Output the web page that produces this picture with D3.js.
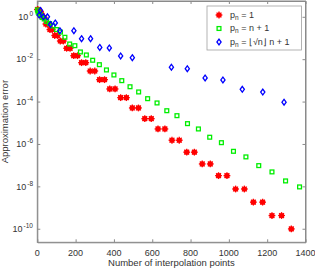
<!DOCTYPE html>
<html><head><meta charset="utf-8">
<script src="https://cdn.jsdelivr.net/npm/d3@7"></script>
<style>
html,body{margin:0;padding:0;background:#fff;}
text{font-family:"Liberation Sans",Arial,Helvetica,sans-serif;}
</style></head>
<body><svg id="c" width="315" height="270"></svg>
<script>
// ---- data ----
const xTicks = [0,200,400,600,800,1000,1200,1400];
const yTickExps = [0,-2,-4,-6,-8,-10];

// p_n = 1
const redX = [1,3,6,10,15,21,28,36,45,55,66,78,91,105,120,136,153,171,190,210,231,253,276,300,325,351,378,406,435,465,496,528,561,595,630,666,703,741,780,820,861,903,946,990,1035,1081,1128,1176,1225,1275,1326];
const redY = [2.2,2.2,2.0,2.0,1.43,1.43,0.93,0.93,0.457,0.457,0.25,0.25,0.131,0.131,0.072,0.072,0.0327,0.0327,0.0146,0.0146,
  6.84e-3,6.84e-3,2.77e-3,2.77e-3,1.08e-3,1.08e-3,3.93e-4,3.93e-4,1.53e-4,1.53e-4,5.0e-5,5.0e-5,1.56e-5,1.56e-5,5.1e-6,5.1e-6,
  1.5e-6,1.5e-6,4.1e-7,4.1e-7,1.14e-7,1.14e-7,3.2e-8,3.2e-8,7.5e-9,7.5e-9,1.8e-9,1.8e-9,4.2e-10,4.2e-10,9.8e-11];

// p_n = n + 1
const greenX = [1,4,9,16,25,36,49,64,81,100,121,144,169,196,225,256,289,324,361,400,441,484,529,576,625,676,729,784,841,900,961,1024,1089,1156,1225,1296,1369];
const greenY = [2.1,1.68,1.43,1.22,0.93,0.79,0.60,0.48,0.37,0.25,0.19,0.108,0.052,0.0433,0.0219,0.0158,0.0089,0.0055,0.0031,0.0018,
  9.7e-4,5.0e-4,2.84e-4,1.37e-4,8.6e-5,3.7e-5,2.16e-5,9.1e-6,5.1e-6,2.08e-6,1.15e-6,4.5e-7,2.45e-7,9.5e-8,4.8e-8,1.8e-8,9.4e-9];

// p_n = floor(sqrt(n)) n + 1
const blueX = [10,17,32,53,69,94,118,191,231,278,326,376,435,496,700,783,876,969,1070,1177,1288];
const blueY = [1.2,2.0,1.0,1.0,0.43,0.51,0.22,0.22,0.093,0.093,0.036,0.034,0.0142,0.0118,0.0042,0.00355,0.0013,0.00105,3.8e-4,2.8e-4,9.3e-5];

// ---- layout ----
const L=37.3, R=305.5, T=1, B=242.3;
const svg = d3.select("#c");
const x = d3.scaleLinear().domain([0,1400]).range([L,R]);
const y = d3.scaleLog().domain([Math.pow(10,-10.64), Math.pow(10,0.745)]).range([B,T]);
const axisCol = "#8a8a8a", txtCol = "#333333";

// box
svg.append("rect").attr("x",L).attr("y",T).attr("width",R-L).attr("height",B-T)
  .attr("fill","#fff").attr("stroke",axisCol).attr("stroke-width",1);

// axes (inward ticks)
const yVals = yTickExps.map(e=>Math.pow(10,e));
const gB = svg.append("g").attr("transform",`translate(0,${B})`)
  .call(d3.axisBottom(x).tickValues(xTicks).tickSize(-3).tickSizeOuter(0).tickFormat(""));
const gT = svg.append("g").attr("transform",`translate(0,${T})`)
  .call(d3.axisTop(x).tickValues(xTicks).tickSize(-3).tickSizeOuter(0).tickFormat(""));
const gL = svg.append("g").attr("transform",`translate(${L},0)`)
  .call(d3.axisLeft(y).tickValues(yVals).tickSize(-3).tickSizeOuter(0).tickFormat(""));
const gR = svg.append("g").attr("transform",`translate(${R},0)`)
  .call(d3.axisRight(y).tickValues(yVals).tickSize(-3).tickSizeOuter(0).tickFormat(""));
[gB,gT,gL,gR].forEach(g=>{g.select(".domain").attr("stroke",axisCol);g.selectAll(".tick line").attr("stroke",axisCol);});

// x tick labels
svg.append("g").selectAll("text").data(xTicks).join("text")
  .attr("x",d=>x(d)).attr("y",256).attr("text-anchor","middle")
  .attr("font-size",9).attr("fill",txtCol).text(d=>d);

// y tick labels
const yl = svg.append("g").selectAll("text").data(yTickExps).join("text")
  .attr("x",33).attr("y",d=>y(Math.pow(10,d))+3.2).attr("text-anchor","end")
  .attr("font-size",9).attr("fill",txtCol);
yl.append("tspan").text("10");
yl.append("tspan").attr("dy",-4).attr("dx",1).attr("font-size",6.5).text(d=>d===0?"0":"-"+(-d));

// axis titles
svg.append("text").attr("x",(L+R)/2).attr("y",266).attr("text-anchor","middle")
  .attr("font-size",9.5).attr("fill",txtCol).text("Number of interpolation points");
svg.append("text").attr("transform",`translate(8,${(T+B)/2}) rotate(-90)`).attr("text-anchor","middle")
  .attr("font-size",9.5).attr("fill",txtCol).text("Approximation error");

// markers
const plot = svg.append("g");
function star(g,cx,cy){
  g.append("circle").attr("cx",cx).attr("cy",cy).attr("r",2.6).attr("fill","#ff0000");
  const s=3.4;
  for(let a=0;a<4;a++){
    const ang=a*Math.PI/4;
    g.append("line").attr("x1",cx-s*Math.cos(ang)).attr("y1",cy-s*Math.sin(ang))
      .attr("x2",cx+s*Math.cos(ang)).attr("y2",cy+s*Math.sin(ang))
      .attr("stroke","#ff0000").attr("stroke-width",1.3);
  }
}
function square(g,cx,cy){
  g.append("rect").attr("x",cx-1.9).attr("y",cy-1.9).attr("width",3.8).attr("height",3.8)
    .attr("fill","none").attr("stroke","#00ee00").attr("stroke-width",1.3);
}
function diamond(g,cx,cy){
  g.append("path").attr("d",`M${cx},${cy-2.9}L${cx+2.1},${cy}L${cx},${cy+2.9}L${cx-2.1},${cy}Z`)
    .attr("fill","none").attr("stroke","#0000ff").attr("stroke-width",1.3);
}
redX.forEach((d,i)=>star(plot,x(d),y(redY[i])));
greenX.forEach((d,i)=>square(plot,x(d),y(greenY[i])));
blueX.forEach((d,i)=>diamond(plot,x(d),y(blueY[i])));

// legend
const lg = svg.append("g");
lg.append("rect").attr("x",207).attr("y",6).attr("width",94.5).attr("height",44)
  .attr("fill","#fff").attr("stroke","#a0a0a0").attr("stroke-width",0.8);
const ly=[15,28.5,42];
star(lg,219,ly[0]); square(lg,219,ly[1]); diamond(lg,219,ly[2]);
const labels = [" = 1"," = n + 1"];
[0,1,2].forEach(i=>{
  const t = lg.append("text").attr("x",230).attr("y",ly[i]+2.5).attr("font-size",9).attr("fill",txtCol);
  t.append("tspan").text("p");
  t.append("tspan").attr("font-size",6.5).attr("dy",2).text("n");
  if(i<2){ t.append("tspan").attr("dy",-2).text(labels[i]); }
  else { t.append("tspan").attr("dy",-2).text(" = \u230A\u221An\u230B n + 1"); }
});
</script></body></html>
